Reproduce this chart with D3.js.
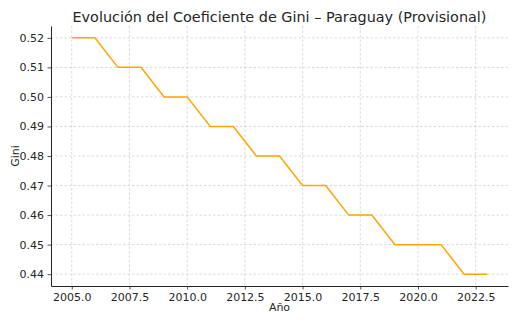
<!DOCTYPE html>
<html><head><meta charset="utf-8">
<script src="https://cdn.jsdelivr.net/npm/d3@7"></script>
<style>body{margin:0;background:#fff}svg{display:block;font-family:"DejaVu Sans",sans-serif}</style>
</head><body><svg id="c" width="518" height="324"></svg>
<script>
const years = [2005,2006,2007,2008,2009,2010,2011,2012,2013,2014,2015,2016,2017,2018,2019,2020,2021,2022,2023];
const gini = [0.52,0.52,0.51,0.51,0.50,0.50,0.49,0.49,0.48,0.48,0.47,0.47,0.46,0.46,0.45,0.45,0.45,0.44,0.44];
const xTicks = [2005,2007.5,2010,2012.5,2015,2017.5,2020,2022.5];
const yTicks = [0.44,0.45,0.46,0.47,0.48,0.49,0.50,0.51,0.52];

const svg = d3.select("#c");
const L=51, R=508, T=26, B=286;
const x = d3.scaleLinear().domain([2004.1,2023.9]).range([L,R]);
const y = d3.scaleLinear().domain([0.436,0.524]).range([B,T]);

// grid
svg.append("g").selectAll("line").data(xTicks).join("line")
  .attr("x1",d=>x(d)).attr("x2",d=>x(d)).attr("y1",T).attr("y2",B)
  .attr("stroke","#d0d0d0").attr("stroke-width",0.8).attr("stroke-dasharray","2.5,2");
svg.append("g").selectAll("line").data(yTicks).join("line")
  .attr("y1",d=>y(d)).attr("y2",d=>y(d)).attr("x1",L).attr("x2",R)
  .attr("stroke","#d0d0d0").attr("stroke-width",0.8).attr("stroke-dasharray","2.5,2");

// line
svg.append("path").datum(years.map((yr,i)=>[yr,gini[i]]))
  .attr("fill","none").attr("stroke","#FFA500").attr("stroke-width",1.5)
  .attr("d",d3.line().x(d=>x(d[0])).y(d=>y(d[1])));

// axes
const xa = svg.append("g").attr("transform",`translate(0,${B})`)
  .call(d3.axisBottom(x).tickValues(xTicks).tickFormat(d3.format(".1f")).tickSize(3.5).tickSizeOuter(0).tickPadding(3.5));
const ya = svg.append("g").attr("transform",`translate(${L},0)`)
  .call(d3.axisLeft(y).tickValues(yTicks).tickFormat(d3.format(".2f")).tickSize(3.5).tickSizeOuter(0).tickPadding(3.5));
[xa,ya].forEach(a=>{
  a.attr("font-size",11).attr("font-family","DejaVu Sans");
  a.selectAll("text").attr("font-size",11).attr("fill","#262626");
  a.selectAll("line").attr("stroke","#262626").attr("stroke-width",0.8);
  a.select(".domain").attr("stroke","#262626").attr("stroke-width",1);
});

svg.append("text").attr("x",(L+R)/2).attr("y",22).attr("text-anchor","middle")
  .attr("font-size",14.4).attr("fill","#262626").text("Evolución del Coeficiente de Gini – Paraguay (Provisional)");
svg.append("text").attr("x",(L+R)/2).attr("y",311).attr("text-anchor","middle")
  .attr("font-size",11).attr("fill","#262626").text("Año");
svg.append("text").attr("transform",`translate(19,${(T+B)/2}) rotate(-90)`).attr("text-anchor","middle")
  .attr("font-size",11).attr("fill","#262626").text("Gini");
</script></body></html>
